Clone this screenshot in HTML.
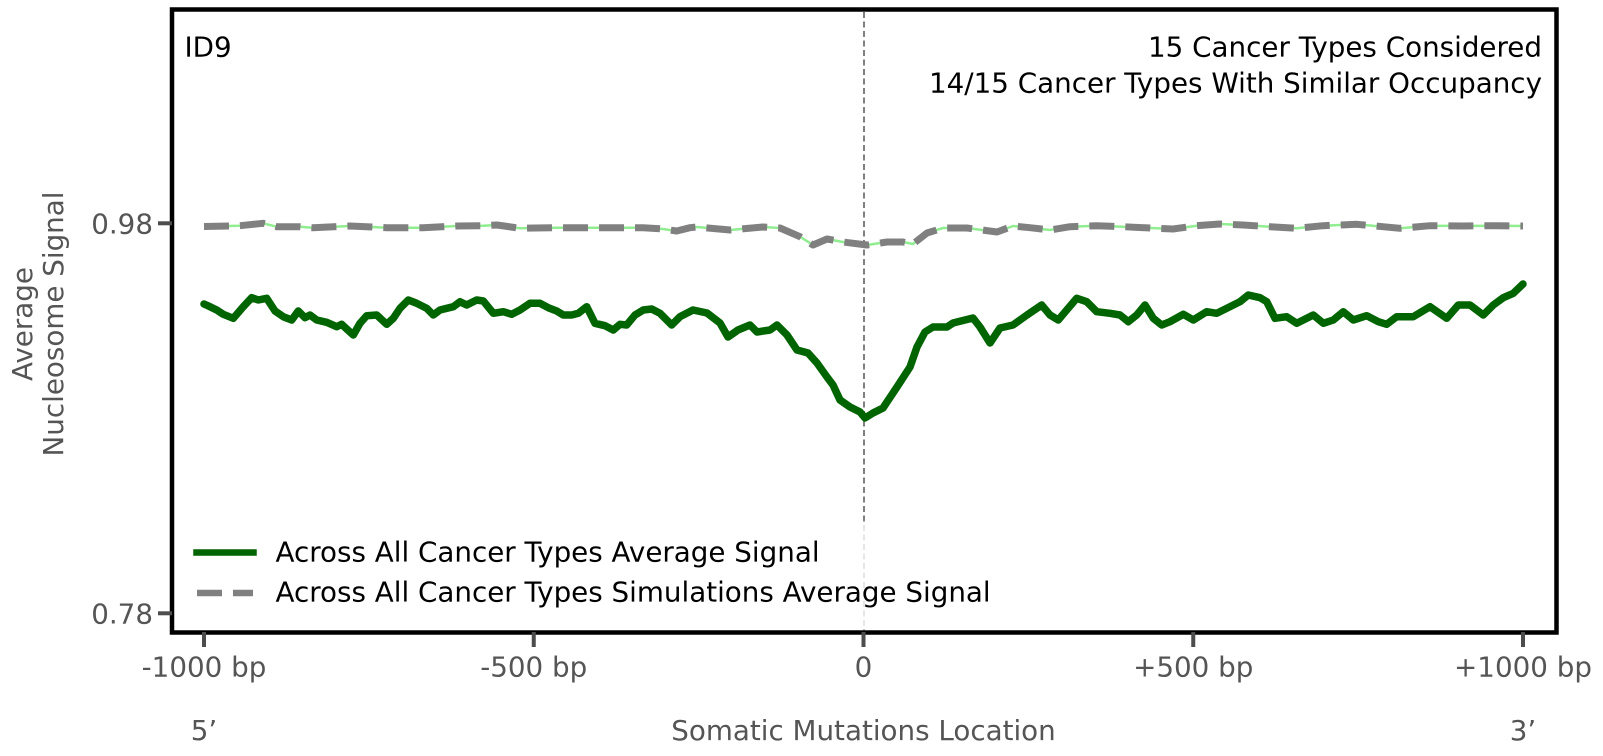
<!DOCTYPE html>
<html>
<head>
<meta charset="utf-8">
<style>
  html,body{margin:0;padding:0;background:#fff;}
  svg{display:block;}
  text{font-family:"DejaVu Sans","Liberation Sans",sans-serif;font-size:27.75px;}
</style>
</head>
<body>
<svg width="1603" height="756" viewBox="0 0 1603 756" xmlns="http://www.w3.org/2000/svg">
  <rect x="0" y="0" width="1603" height="756" fill="#fff"/>

  <!-- vertical center dashed line -->
  <line x1="864" y1="12" x2="864" y2="630" stroke="#808080" stroke-width="2" stroke-dasharray="6 3.5"/>

  <!-- simulation light green line -->
  <polyline fill="none" stroke="#90ee90" stroke-width="2.5" stroke-linejoin="round"
    points="204,226.5 240,225.7 263,223.3 276.7,226.7 300,226.7 313,227.7 350,226 386.7,227.7 423,227.7 456.7,226 483,225.7 497,225 520,228.3 556.7,227.7 603,227.7 643,227.7 663,229 676.7,231 690,227.7 697,227 730,230 763,227 780,228 800,236.7 813,245 827,239 843,242 867,245 887,242 903,242 913,244 927,233 943,228 967,228 997,232 1013,226 1030,227.7 1050,230 1070,226.7 1096.7,225.7 1123,226.7 1156.7,228.3 1173,229 1196.7,225.7 1220,224 1243,225 1270,226.7 1296.7,228.3 1323,225.7 1356.7,224.3 1383,226.7 1400,228.3 1430,225.7 1463,226 1496.7,225.7 1523,226"/>
  <!-- simulation gray dashed line -->
  <polyline fill="none" stroke="#808080" stroke-width="7" stroke-dasharray="25 11" stroke-linejoin="round"
    points="204,226.5 240,225.7 263,223.3 276.7,226.7 300,226.7 313,227.7 350,226 386.7,227.7 423,227.7 456.7,226 483,225.7 497,225 520,228.3 556.7,227.7 603,227.7 643,227.7 663,229 676.7,231 690,227.7 697,227 730,230 763,227 780,228 800,236.7 813,245 827,239 843,242 867,245 887,242 903,242 913,244 927,233 943,228 967,228 997,232 1013,226 1030,227.7 1050,230 1070,226.7 1096.7,225.7 1123,226.7 1156.7,228.3 1173,229 1196.7,225.7 1220,224 1243,225 1270,226.7 1296.7,228.3 1323,225.7 1356.7,224.3 1383,226.7 1400,228.3 1430,225.7 1463,226 1496.7,225.7 1523,226"/>

  <!-- real signal green line -->
  <polyline fill="none" stroke="#006400" stroke-width="7.5" stroke-linejoin="round" stroke-linecap="round"
    points="204,304 210,306.7 216.7,310 223.3,314.3 233.3,318.3 243.3,306.7 251.7,297.7 258.3,300 266.7,298.3 275,311 283.3,316.7 291.7,320 298.3,311 305,317.7 310,315 316.7,320 326.7,322.3 336.7,326.7 341.7,324.3 346.7,329 353.3,335 360,323.3 366.7,315.7 376.7,315 386.7,324.3 393.3,318.3 400,308.3 408.3,300 416.7,303.3 426.7,308.3 433.3,315 440,310 453.3,306.7 460,301.7 466.7,305 476.7,300 483.3,301 493.3,313.3 503.3,311.7 511.7,314.3 520,310 530,303.3 540,303.3 548.3,307.7 556.7,311 563.3,315 571.7,315 578.3,313.3 586.7,306.7 595,323.3 605,325.7 613.3,330 620,324.3 626.7,325 635,315 643.3,310 651.7,309 660,313.3 671.7,325 680,316.7 693,310 707,313 720,323 728,337 738,330 750,325 757,332 770,330 777,325 787,335 797,350 808,353 817,363 827,377 833,385 840,400 850,407 860,412 865,418 873,413 883,408 897,387 910,367 917,347 925,332 933,327 947,327 953,323 973,318 980,327 990,343 1000,328 1013,325 1027,315 1041.7,305 1050,315 1058.3,320 1066.7,310 1076.7,298.3 1086.7,301.7 1096.7,311.7 1110,313.3 1120,315 1128.3,321.7 1136.7,315 1145,305 1153.3,318.3 1161.7,325 1170,321.7 1183.3,314.3 1193.3,320 1206.7,311.7 1216.7,313.3 1230,306.7 1240,301.7 1248.3,295 1260,297.7 1266.7,301.7 1275,318.3 1286.7,316.7 1296.7,323.3 1313.3,315 1323.3,323.3 1333.3,320 1343.3,311.7 1353.3,320 1366.7,315.7 1378.3,321.7 1386.7,324.3 1396.7,316.7 1413.3,316.7 1430,306.7 1446.7,318.3 1458.3,305 1470,305 1483.3,315 1493.3,305 1503.3,297.7 1513.3,293.3 1523,284"/>

  <!-- legend background (semi-transparent) -->
  <rect x="185" y="523" width="815" height="104" fill="#fff" fill-opacity="0.8"/>
  <!-- legend handles -->
  <line x1="196.5" y1="552.5" x2="253.5" y2="552.5" stroke="#006400" stroke-width="6.5" stroke-linecap="square"/>
  <line x1="197" y1="593" x2="253" y2="593" stroke="#808080" stroke-width="6.5" stroke-dasharray="25 11"/>
  <text x="275.5" y="561.7" fill="#000">Across All Cancer Types Average Signal</text>
  <text x="275.5" y="601.7" fill="#000">Across All Cancer Types Simulations Average Signal</text>

  <!-- frame -->
  <rect x="172" y="9.5" width="1384.5" height="623" fill="none" stroke="#000" stroke-width="4.5"/>

  <!-- y ticks -->
  <line x1="158" y1="223.3" x2="172" y2="223.3" stroke="#4d4d4d" stroke-width="4"/>
  <line x1="158" y1="613.3" x2="172" y2="613.3" stroke="#4d4d4d" stroke-width="4"/>
  <text x="153" y="233.3" fill="#555" text-anchor="end">0.98</text>
  <text x="153" y="623.3" fill="#555" text-anchor="end">0.78</text>

  <!-- x ticks -->
  <g stroke="#4d4d4d" stroke-width="4">
    <line x1="204" y1="632" x2="204" y2="647"/>
    <line x1="533.75" y1="632" x2="533.75" y2="647"/>
    <line x1="863.5" y1="632" x2="863.5" y2="647"/>
    <line x1="1193.25" y1="632" x2="1193.25" y2="647"/>
    <line x1="1523" y1="632" x2="1523" y2="647"/>
  </g>
  <g fill="#555" text-anchor="middle">
    <text x="204" y="676.5">-1000 bp</text>
    <text x="533.75" y="676.5">-500 bp</text>
    <text x="863.5" y="676.5">0</text>
    <text x="1193.25" y="676.5">+500 bp</text>
    <text x="1523" y="676.5">+1000 bp</text>
    <text x="204" y="740">5’</text>
    <text x="863.5" y="740">Somatic Mutations Location</text>
    <text x="1523" y="740">3’</text>
  </g>

  <!-- y axis label -->
  <g fill="#555" text-anchor="middle">
    <text transform="translate(32,324) rotate(-90)">Average</text>
    <text transform="translate(63,324) rotate(-90)">Nucleosome Signal</text>
  </g>

  <!-- annotations -->
  <text x="184.5" y="56.5" fill="#000">ID9</text>
  <text x="1542" y="56.7" fill="#000" text-anchor="end">15 Cancer Types Considered</text>
  <text x="1542" y="92.5" fill="#000" text-anchor="end">14/15 Cancer Types With Similar Occupancy</text>
</svg>
</body>
</html>
